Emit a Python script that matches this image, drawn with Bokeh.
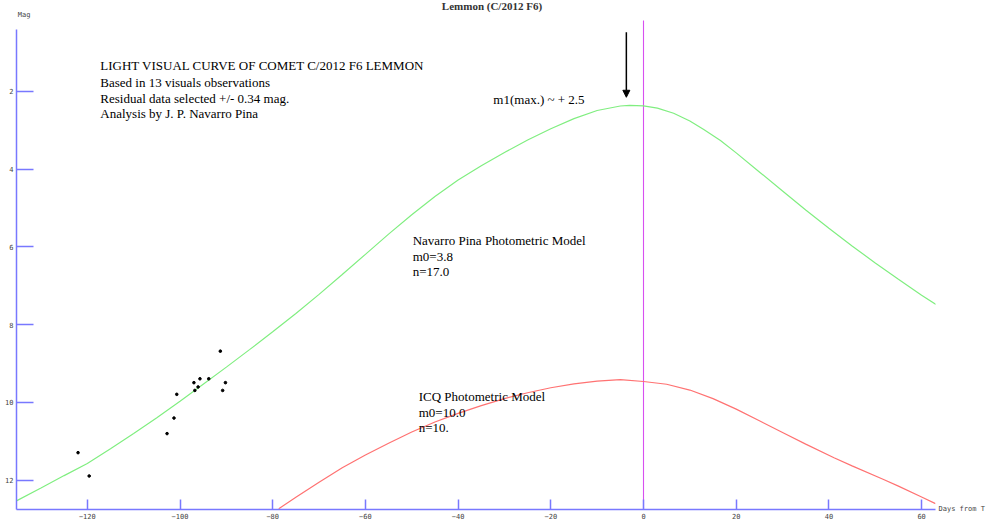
from bokeh.plotting import figure
from bokeh.models import Range1d, FixedTicker, Label, Arrow, NormalHead, LinearAxis
from bokeh.embed import file_html
from bokeh.resources import INLINE

# ---- data ----
green_days = [-135.3, -130, -125, -120, -115, -110, -105, -100, -95, -90, -85, -80, -75, -70, -65, -60,
              -55, -50, -45, -40, -35, -30, -25, -20, -15, -10, -5, -3, 0, 3, 6.5, 10, 13, 16.6, 20, 25,
              30, 35, 40, 45, 50, 55, 60, 63.1]
green_mag = [12.53, 12.20, 11.88, 11.57, 11.19, 10.80, 10.39, 9.97, 9.53, 9.09, 8.64, 8.18, 7.71, 7.22, 6.71, 6.19,
             5.67, 5.17, 4.70, 4.28, 3.91, 3.57, 3.25, 2.96, 2.70, 2.49, 2.375, 2.36, 2.37, 2.43, 2.56, 2.76, 2.98, 3.26, 3.58, 4.07,
             4.56, 5.05, 5.52, 5.975, 6.41, 6.83, 7.24, 7.48]

red_days = [-78.7, -75, -70, -65, -60, -55, -50, -45, -40, -35, -30, -25, -20, -15, -10, -5, 0, 5, 10,
            15, 20, 25, 30, 35, 41.1, 45, 51.8, 55, 60, 63.0]
red_mag = [12.73, 12.44, 12.05, 11.68, 11.35, 11.05, 10.76, 10.50, 10.28, 10.08, 9.90, 9.75, 9.62, 9.52, 9.45, 9.41, 9.46, 9.53, 9.68,
           9.90, 10.17, 10.47, 10.77, 11.07, 11.42, 11.63, 11.98, 12.15, 12.43, 12.60]

obs_days = [-122.0, -119.6, -102.8, -101.3, -100.7, -97.0, -96.8, -96.1, -95.7, -93.8, -91.3, -90.8, -90.2]
obs_mag = [11.29, 11.89, 10.80, 10.40, 9.79, 9.49, 9.69, 9.60, 9.39, 9.39, 8.68, 9.69, 9.49]

x_ticks = [-120, -100, -80, -60, -40, -20, 0, 20, 40, 60]
y_ticks = [2, 4, 6, 8, 10, 12]
perihelion_day = 0

title_text = "Lemmon (C/2012 F6)"
x_title = "Days from T"
y_title = "Mag"
header_lines = ["LIGHT VISUAL CURVE OF COMET C/2012 F6 LEMMON",
                "Based in 13 visuals observations",
                "Residual data selected +/- 0.34 mag.",
                "Analysis by J. P. Navarro Pina"]
green_lines = ["Navarro Pina Photometric Model", "m0=3.8", "n=17.0"]
red_lines = ["ICQ Photometric Model", "m0=10.0", "n=10."]
peak_text = "m1(max.) ~ + 2.5"

AXIS = "#7878ff"
GREEN = "#80ee80"
RED = "#ff7272"
MAGENTA = "#d850f0"
SERIF = "Liberation Serif"
MONO = "DejaVu Sans Mono"

X0, X1 = -135.28, 63.0
Y_BOTTOM, Y_AXIS_TOP = 12.75, 0.41

p = figure(width=1000, height=524, output_backend="svg", toolbar_location=None,
           x_range=Range1d(X0, X1), y_range=Range1d(12.752, -0.339),
           min_border_left=16, min_border_right=65, min_border_top=0, min_border_bottom=15)
p.outline_line_color = None
p.grid.visible = False
p.background_fill_color = "white"
p.border_fill_color = "white"

for ax, tin in ((p.xaxis[0], 10), (p.yaxis[0], 17)):
    ax.axis_line_color = AXIS
    ax.axis_line_width = 1.5
    ax.major_tick_line_color = AXIS
    ax.major_tick_line_width = 1.5
    ax.major_tick_in = tin
    ax.major_tick_out = 0
    ax.minor_tick_line_color = None
    ax.major_label_text_font = MONO
    ax.major_label_text_font_size = "7px"
    ax.major_label_text_color = "#444444"
    ax.major_label_standoff = 3
p.xaxis[0].ticker = FixedTicker(ticks=x_ticks)
p.yaxis[0].ticker = FixedTicker(ticks=y_ticks)
p.yaxis[0].bounds = (Y_AXIS_TOP, Y_BOTTOM)

# "Days from T" written level with the x axis, just right of its end
end_axis = LinearAxis(ticker=FixedTicker(ticks=[Y_BOTTOM]), major_label_overrides={Y_BOTTOM: x_title},
                      axis_line_color=None, major_tick_line_color=None, minor_tick_line_color=None,
                      major_tick_in=0, major_tick_out=0,
                      major_label_text_font=MONO, major_label_text_font_size="7px",
                      major_label_text_color="#444444", major_label_standoff=3)
p.add_layout(end_axis, "right")

# perihelion marker
p.segment(x0=[perihelion_day], y0=[0.175], x1=[perihelion_day], y1=[Y_BOTTOM], line_color=MAGENTA, line_width=1.1)

p.line(green_days, green_mag, line_color=GREEN, line_width=1.2)
p.line(red_days, red_mag, line_color=RED, line_width=1.2)
p.scatter(obs_days, obs_mag, size=2.6, color="black")

p.add_layout(Arrow(x_start=-3.7, y_start=0.48, x_end=-3.7, y_end=2.15, line_color="black", line_width=1.5,
                   end=NormalHead(size=7, fill_color="black", line_color="black")))

def add_text(x, y, text, size="13px", font=SERIF, color="black", align="left", baseline="alphabetic", style="normal"):
    p.add_layout(Label(x=x, y=y, text=text, text_font=font, text_font_size=size, text_color=color,
                       text_align=align, text_baseline=baseline, text_font_style=style))

add_text(-32.7, -0.19, title_text, size="11px", color="#333333", align="center", style="bold")
add_text(-135.0, 0.03, y_title, size="7px", font=MONO, color="#444444", baseline="middle")

for line, mag in zip(header_lines, [1.33, 1.77, 2.18, 2.57]):
    add_text(-117.2, mag, line)
for line, mag in zip(green_lines, [5.83, 6.24, 6.63]):
    add_text(-49.8, mag, line)
for line, mag in zip(red_lines, [9.84, 10.25, 10.64]):
    add_text(-48.5, mag, line)
add_text(-32.4, 2.21, peak_text)

open("out.html", "w").write(file_html(p, INLINE))
